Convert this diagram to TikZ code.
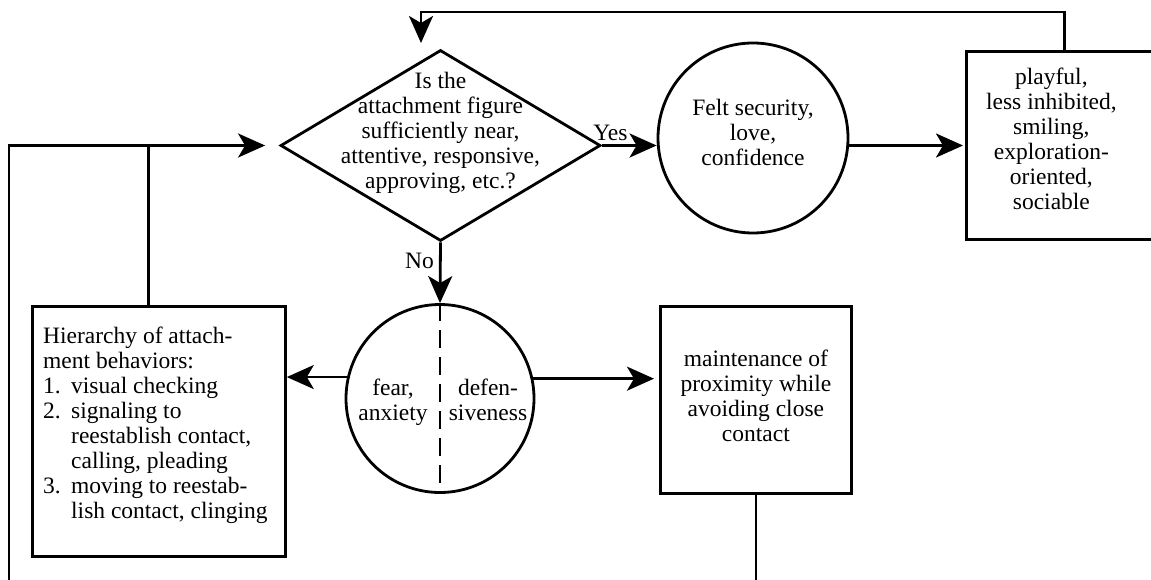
\documentclass[tikz,border=0pt]{standalone}
\usepackage{fontspec}
\setmainfont{Liberation Serif}
\usetikzlibrary{shapes.geometric,arrows.meta}
\tikzset{arrow/.style={draw,->,>={Stealth[length=27pt,width=24pt,inset=7pt]},line width=2.8pt,#1}}
\tikzset{arrow/.default={black}}
\tikzset{line/.style={draw,line width=2.8pt}}
\tikzset{box/.style={draw,line width=2.8pt,rectangle,inner sep=0pt,anchor=north west}}
\tikzset{ring/.style={draw,line width=2.8pt,circle,inner sep=0pt}}
\tikzset{choice/.style={draw,line width=2.8pt,diamond,inner sep=0pt}}
\tikzset{words/.style={inner sep=0pt,align=center}}
\tikzset{font={\fontsize{23.5pt}{25pt}\selectfont}}
\newcommand{\itemno}[1]{\makebox[28pt][l]{#1}}

\begin{document}
\begin{tikzpicture}[x=1pt,y=-1pt]
        \path[use as bounding box] (0,0) rectangle (1151,580);
        \clip (0,0) rectangle (1151,580);
        \node[choice,minimum width=320pt,minimum height=191pt,label={[words,yshift=13pt]center:{Is the\\attachment figure\\sufficiently near,\\attentive, responsive,\\approving, etc.?}}] (q) at (440.5,145.5) {};
        \node[ring,minimum size=190pt,label={[words,yshift=6pt]center:{Felt security,\\love,\\confidence}}] (feel) at (753,138) {};
        \node[box,minimum width=196pt,minimum height=188pt,label={[words,xshift=-13pt,yshift=6.5pt]center:{playful,\\less inhibited,\\smiling,\\exploration-\\oriented,\\sociable}}] (play) at (965,50) {};
        \node[ring,minimum size=188pt,label={[words,xshift=-47pt,yshift=-3.5pt]center:{fear,\\anxiety}},label={[words,xshift=48pt,yshift=-1pt]center:{defen-\\siveness}}] (fear) at (440,398.5) {};
        \node[box,minimum width=253pt,minimum height=250pt,label={[words,align=left,anchor=north west,xshift=12pt,yshift=-22pt]north west:{Hierarchy of attach-\\ment behaviors:\\\itemno{1.}visual checking\\\itemno{2.}signaling to\\\itemno{}reestablish contact,\\\itemno{}calling, pleading\\\itemno{3.}moving to reestab-\\\itemno{}lish contact, clinging}}] (hier) at (31,305) {};
        \node[box,minimum width=191pt,minimum height=187pt,label={[words,yshift=4pt]center:{maintenance of\\proximity while\\avoiding close\\contact}}] (keep) at (659,305) {};
        % free ends of the feedback lines
        \coordinate (back) at (421,43);
        \coordinate (loop) at (9,590);
        \coordinate (down) at (keep.south |- loop);
        \path[draw,arrow] (q.east) -- (q.east -| feel.west) node[pos=0.155,above] (yes) {Yes};
        \path[draw,arrow] (q.south) -- (fear.north) node[pos=0.3,left,inner sep=5pt] (no) {No};
        \path[draw,arrow,shorten >=2pt] (q.east -| feel.east) -- (q.east -| play.west);
        \path[draw,arrow] (play.north) -- ++(0,-38) -| (back);
        \path[draw,arrow,shorten >=14pt] (loop) |- (q.west);
        \path[line] ([xshift=-10.5pt]hier.north) -- ([xshift=-10.5pt]hier.north |- q.west);
        \path[draw,arrow] (fear.167.4) -- (fear.167.4 -| hier.east);
        \path[draw,arrow,shorten >=5pt] (fear.12.6) -- (fear.12.6 -| keep.west);
        \path[line] (keep.south) -- (down);
        \path[line,dash pattern=on 18pt off 9pt] (fear.north) -- (fear.south);
    \end{tikzpicture}
\end{document}
